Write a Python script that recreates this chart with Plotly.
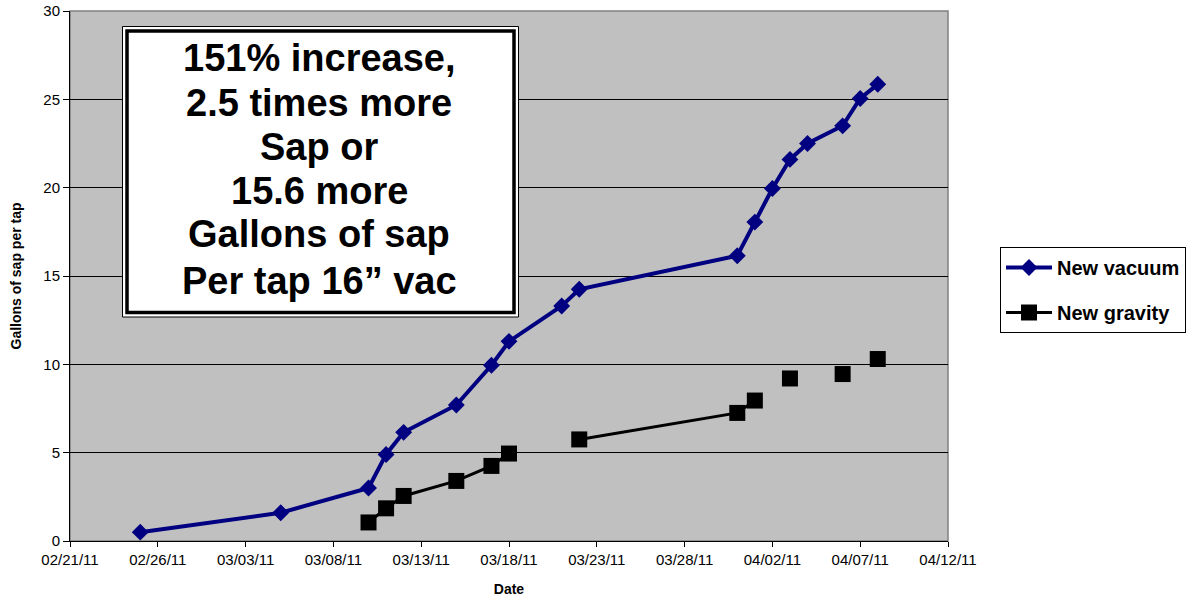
import plotly.graph_objects as go

# ---- data ----
dates = ["2011-02-25", "2011-03-05", "2011-03-10", "2011-03-11", "2011-03-12",
         "2011-03-15", "2011-03-17", "2011-03-18", "2011-03-21", "2011-03-22",
         "2011-03-31", "2011-04-01", "2011-04-02", "2011-04-03", "2011-04-04",
         "2011-04-06", "2011-04-07", "2011-04-08"]
new_vacuum = [0.5, 1.6, 3.0, 4.9, 6.15, 7.7, 9.95, 11.3, 13.3, 14.25,
              16.15, 18.05, 19.95, 21.6, 22.5, 23.5, 25.05, 25.85]
new_gravity = [None, None, 1.05, 1.85, 2.55, 3.4, 4.25, 4.95, None, 5.75,
               7.25, 7.95, None, 9.2, None, 9.45, None, 10.3]
note_lines = ["151% increase,", "2.5 times more", "Sap or", "15.6 more",
              "Gallons of sap", "Per tap 16\u201d vac"]

FONT = "Liberation Sans, Arial, sans-serif"

fig = go.Figure()
fig.add_trace(go.Scatter(
    x=dates, y=new_vacuum, name="<b>New vacuum</b>", mode="lines+markers",
    line=dict(color="#000080", width=4),
    marker=dict(symbol="diamond", size=13, color="#000080"),
    legendgroup="a", connectgaps=False))
fig.add_trace(go.Scatter(
    x=dates, y=new_gravity, name="<b>New gravity</b>", mode="lines+markers",
    line=dict(color="#000000", width=3),
    marker=dict(symbol="square", size=16, color="#000000"),
    legendgroup="b", connectgaps=False))

# geometry helpers (plot area in pixels: x 70..948, y 11..541)
L, R, T, B = 70, 948, 11, 541
def px(x):
    return (x - L) / (R - L)
def py(y):
    return (B - y) / (B - T)

shapes = [
    dict(type="rect", xref="paper", yref="paper", x0=0, x1=1, y0=0, y1=1,
         line=dict(color="#808080", width=1.5), layer="below"),
    dict(type="rect", xref="paper", yref="paper",
         x0=px(122.5), x1=px(518.5), y0=py(317), y1=py(26.5),
         line=dict(color="#000000", width=1), fillcolor="#FFFFFF", layer="above"),
    dict(type="rect", xref="paper", yref="paper",
         x0=px(127), x1=px(514), y0=py(312.5), y1=py(31),
         line=dict(color="#000000", width=3.5), fillcolor="rgba(0,0,0,0)", layer="above"),
]

annotations = []
centers = [58, 103, 147, 191, 234, 281]
for txt, cy in zip(note_lines, centers):
    annotations.append(dict(
        text="<b>" + txt + "</b>", xref="paper", yref="paper",
        x=px(319), y=py(cy), xanchor="center", yanchor="middle",
        showarrow=False, font=dict(family=FONT, size=38, color="#000000")))

fig.update_layout(
    width=1200, height=599, autosize=False,
    margin=dict(l=L, r=1200 - R, t=T, b=599 - B, autoexpand=False),
    paper_bgcolor="#FFFFFF", plot_bgcolor="#C0C0C0",
    font=dict(family=FONT, size=14, color="#000000"),
    shapes=shapes, annotations=annotations,
    legend=dict(x=px(1000), y=py(247), xanchor="left", yanchor="top",
                bgcolor="#FFFFFF", bordercolor="#000000", borderwidth=1,
                font=dict(family=FONT, size=20, color="#000000"),
                traceorder="grouped", tracegroupgap=16,
                itemwidth=46),
    showlegend=True,
)

fig.update_xaxes(
    type="date", range=["2011-02-21", "2011-04-12"], automargin=False,
    tick0="2011-02-21", dtick=5 * 86400000, tickformat="%m/%d/%y",
    ticks="outside", ticklen=5, tickcolor="#000000",
    showline=True, linecolor="#000000", linewidth=1,
    showgrid=False, zeroline=False,
    tickfont=dict(family=FONT, size=15),
    title=dict(text="<b>Date</b>", font=dict(family=FONT, size=14), standoff=17))
fig.update_yaxes(
    range=[0, 30], dtick=5, tick0=0, automargin=False,
    ticks="outside", ticklen=6, tickcolor="#000000",
    showline=True, linecolor="#000000", linewidth=1,
    showgrid=True, gridcolor="#000000", gridwidth=1, zeroline=False,
    tickfont=dict(family=FONT, size=15),
    title=dict(text="<b>Gallons of sap per tap</b>", font=dict(family=FONT, size=14), standoff=18))

fig.write_html("out.html", config={"displayModeBar": False},
               post_script="document.body.style.margin='0';")
